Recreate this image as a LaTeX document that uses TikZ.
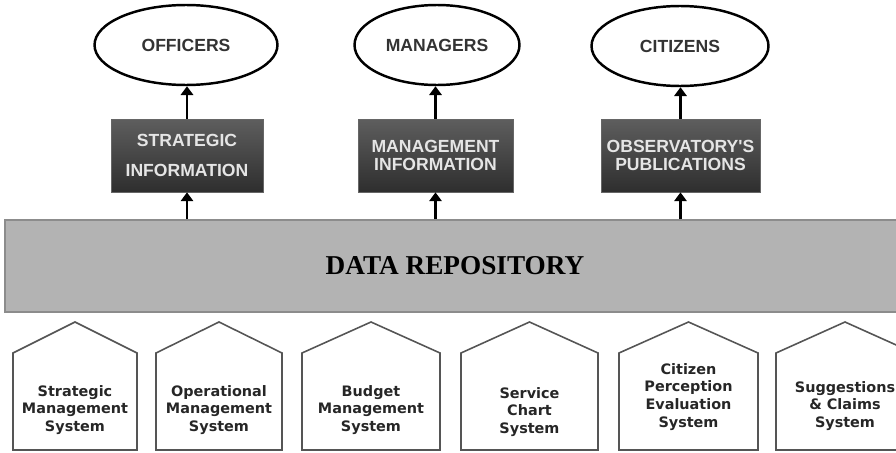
\documentclass[tikz,border=0pt]{standalone}
\usepackage{fontspec}
\setmainfont{Liberation Serif}
\newfontfamily\capsfont{Liberation Sans}
\newfontfamily\sysfont{DejaVu Sans}
\usetikzlibrary{shapes.geometric,arrows.meta}
\definecolor{repofill}{HTML}{B3B3B3}
\definecolor{repoline}{HTML}{8C8C8C}
\definecolor{boxtop}{HTML}{5E5E5E}
\definecolor{boxbot}{HTML}{2E2E2E}
\definecolor{houseline}{HTML}{555555}
\tikzset{
  user/.style={ellipse, draw, line width=1.4pt, inner sep=0pt, minimum height=1.6cm,
    font=\capsfont\bfseries\fontsize{10}{12}\selectfont, text=black!80},
  infobox/.style={rectangle, draw=black!60, top color=boxtop, bottom color=boxbot,
    minimum height=1.46cm, inner sep=0pt, align=center, text=white!90!black,
    font=\capsfont\bfseries\fontsize{10}{10.5}\selectfont},
  repo/.style={rectangle, draw=repoline, line width=1pt, fill=repofill,
    minimum width=18cm, minimum height=1.84cm, font=\bfseries\fontsize{15.5}{18}\selectfont},
  house/.style={draw=houseline, line width=0.9pt, line join=miter},
  systext/.style={align=center, inner sep=0pt, text=black!85,
    font=\sysfont\bfseries\fontsize{8.2}{10.2}\selectfont},
  uparrow/.style={line width=1.2pt, -{Triangle[width=7pt,length=5pt]}}
}
\begin{document}
\begin{tikzpicture}[x=0.02cm, y=-0.02cm]
\useasboundingbox (0,0) rectangle (896,453);
\clip (0,0) rectangle (896,453);

% who receives the information
\node[user, minimum width=3.66cm] (officers) at (186,45) {OFFICERS};
\node[user, minimum width=3.3cm] (managers) at (437,45) {MANAGERS};
\node[user, minimum width=3.54cm] (citizens) at (680,46) {CITIZENS};

% information products
\node[infobox, minimum width=3.04cm] (stratinfo) at (187,155.5) {STRATEGIC\\[7pt]INFORMATION};
\node[infobox, minimum width=3.1cm] (mgmtinfo) at (435.5,155.5) {MANAGEMENT\\INFORMATION};
\node[infobox, minimum width=3.18cm] (pubinfo) at (680.5,155.5) {OBSERVATORY'S\\PUBLICATIONS};

% repository
\node[repo] (repo) at (455,266) {DATA REPOSITORY};

\draw[uparrow] (stratinfo.north) -- (stratinfo.north |- officers.south);
\draw[uparrow] (mgmtinfo.north) -- (mgmtinfo.north |- managers.south);
\draw[uparrow] (pubinfo.north) -- (pubinfo.north |- citizens.south);
\draw[uparrow] (repo.north -| stratinfo.south) -- (stratinfo.south);
\draw[uparrow] (repo.north -| mgmtinfo.south) -- (mgmtinfo.south);
\draw[uparrow] (repo.north -| pubinfo.south) -- (pubinfo.south);

% source systems
\foreach \cx/\hw/\ty/\nm/\txt in {
    75/124/410/strat/{Strategic\\Management\\System},
    219/126/410/oper/{Operational\\Management\\System},
    371/138/410/budget/{Budget\\Management\\System},
    529.5/137/412/chart/{Service\\Chart\\System},
    688.5/139/397/percep/{Citizen\\Perception\\Evaluation\\System},
    845/138/406/claims/{Suggestions\\\& Claims\\System}}{
  \draw[house] (\cx-\hw/2,450) -- (\cx-\hw/2,353) -- (\cx,322) -- (\cx+\hw/2,353)
    -- (\cx+\hw/2,450) -- cycle;
  \node[systext] (sys\nm) at (\cx,\ty) {\txt};
}
\end{tikzpicture}
\end{document}
